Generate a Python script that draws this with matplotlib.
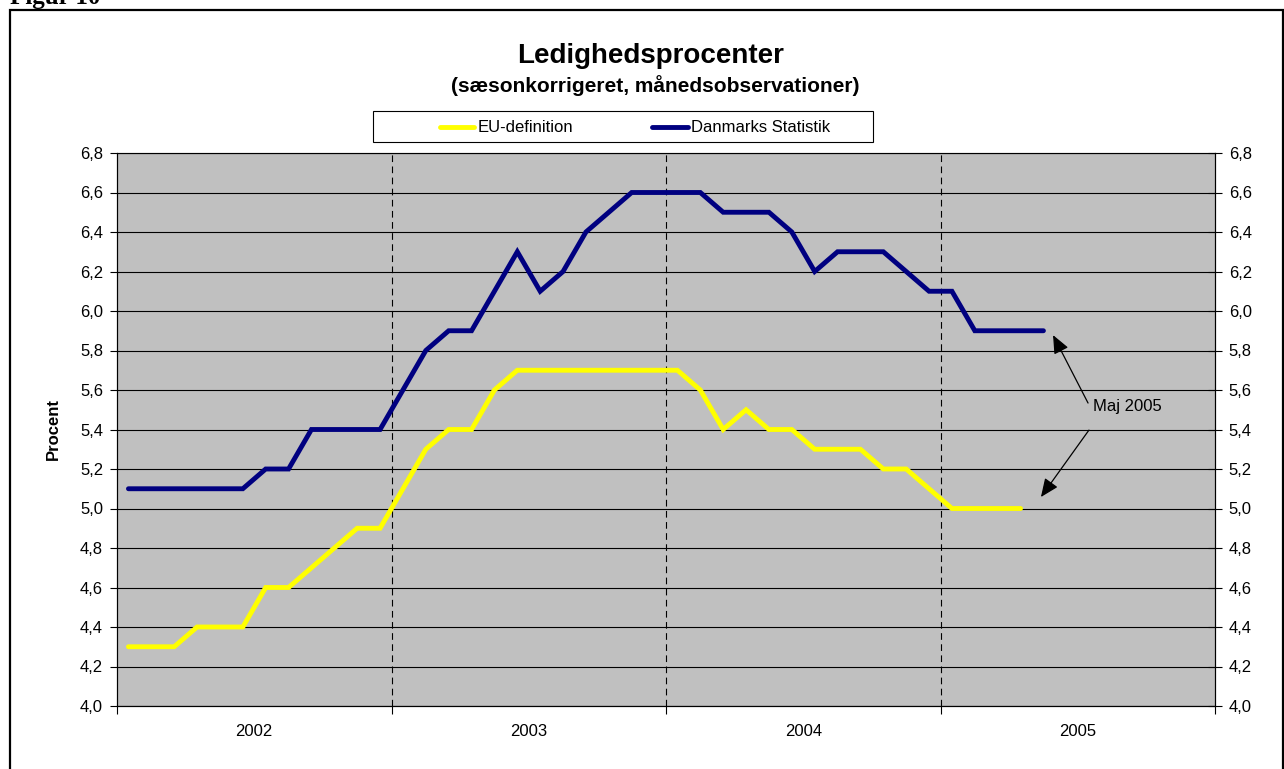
import numpy as np
import matplotlib.pyplot as plt
from matplotlib.patches import Rectangle
from matplotlib.lines import Line2D

# monthly values from Jan 2002
eu_values = [4.3, 4.3, 4.3, 4.4, 4.4, 4.4, 4.6, 4.6, 4.7, 4.8, 4.9, 4.9,
             5.1, 5.3, 5.4, 5.4, 5.6, 5.7, 5.7, 5.7, 5.7, 5.7, 5.7, 5.7,
             5.7, 5.6, 5.4, 5.5, 5.4, 5.4, 5.3, 5.3, 5.3, 5.2, 5.2, 5.1,
             5.0, 5.0, 5.0, 5.0]
ds_values = [5.1, 5.1, 5.1, 5.1, 5.1, 5.1, 5.2, 5.2, 5.4, 5.4, 5.4, 5.4,
             5.6, 5.8, 5.9, 5.9, 6.1, 6.3, 6.1, 6.2, 6.4, 6.5, 6.6, 6.6,
             6.6, 6.6, 6.5, 6.5, 6.5, 6.4, 6.2, 6.3, 6.3, 6.3, 6.2, 6.1,
             6.1, 5.9, 5.9, 5.9, 5.9]
years = ['2002', '2003', '2004', '2005']
y_ticks = [4.0, 4.2, 4.4, 4.6, 4.8, 5.0, 5.2, 5.4, 5.6, 5.8, 6.0, 6.2, 6.4, 6.6, 6.8]

W, H = 1284, 769


def main():
    plt.rcParams['font.family'] = ['Liberation Sans', 'DejaVu Sans']
    fs = 12

    fig = plt.figure(figsize=(W / 100, H / 100), dpi=100)
    fig.patch.set_facecolor('white')
    ax = fig.add_axes([117 / W, 1 - 706 / H, (1215 - 117) / W, (706 - 153) / H])
    ax.set_facecolor('#C0C0C0')

    x_eu = np.arange(len(eu_values)) + 0.5
    x_ds = np.arange(len(ds_values)) + 0.5
    ax.plot(x_eu, eu_values, color='#FFFF00', lw=3.5, solid_capstyle='round',
            solid_joinstyle='miter', zorder=3)
    ax.plot(x_ds, ds_values, color='#000080', lw=3.5, solid_capstyle='round',
            solid_joinstyle='miter', zorder=3)

    n_months = 12 * len(years)
    ax.set_xlim(0, n_months)
    ax.set_ylim(y_ticks[0], y_ticks[-1])

    ax.set_yticks(y_ticks)
    ax.set_yticklabels([('%.1f' % v).replace('.', ',') for v in y_ticks], fontsize=fs)
    ax.yaxis.grid(True, color='black', lw=0.8)
    for yr in range(1, len(years)):
        ax.axvline(12 * yr, color='black', lw=0.8, ls=(0, (6, 4)), zorder=2)

    ax.set_xticks(np.arange(0, n_months + 1, 12))
    ax.set_xticklabels([])
    ax.set_xticks(np.arange(6, n_months, 12), minor=True)
    ax.set_xticklabels(years, minor=True, fontsize=fs)
    ax.tick_params(axis='x', which='major', direction='out', length=6, width=0.8)
    ax.tick_params(axis='x', which='minor', length=0, pad=13)
    ax.tick_params(axis='y', direction='out', length=5, width=0.8, pad=5)
    ax.set_axisbelow(True)

    ax2 = ax.twinx()
    ax2.set_ylim(ax.get_ylim())
    ax2.set_yticks(y_ticks)
    ax2.set_yticklabels([('%.1f' % v).replace('.', ',') for v in y_ticks], fontsize=fs)
    ax2.tick_params(axis='y', direction='inout', length=10, width=0.8, pad=5)

    for a in (ax, ax2):
        for s in a.spines.values():
            s.set_color('black')
            s.set_linewidth(0.8)
    ax.spines['top'].set_color('#808080')

    ax.set_ylabel('Procent', fontsize=fs, fontweight='bold', labelpad=14)

    # annotation
    ax.text(42.65, 5.515, 'Maj 2005', fontsize=fs, va='center', ha='left')
    arrow = dict(arrowstyle='-|>,head_length=0.7,head_width=0.3', color='black',
                 lw=0.9, mutation_scale=16, shrinkA=0, shrinkB=0)
    ax.annotate('', xy=(40.92, 5.878), xytext=(42.45, 5.534), arrowprops=arrow)
    ax.annotate('', xy=(40.39, 5.058), xytext=(42.49, 5.397), arrowprops=arrow)

    # titles
    fig.text(651 / W, 1 - 56 / H, 'Ledighedsprocenter', fontsize=20,
             fontweight='bold', ha='center', va='center')
    fig.text(655 / W, 1 - 86 / H, '(sæsonkorrigeret, månedsobservationer)',
             fontsize=15, fontweight='bold', ha='center', va='center')

    # legend box
    fig.patches.append(Rectangle((373 / W, 1 - 142 / H), 500 / W, 31 / H,
                                 transform=fig.transFigure, facecolor='white',
                                 edgecolor='black', lw=0.8))
    ly = 1 - 127 / H
    fig.lines.append(Line2D([440 / W, 474 / W], [ly, ly], transform=fig.transFigure,
                            color='#FFFF00', lw=3.5, solid_capstyle='round'))
    fig.lines.append(Line2D([652 / W, 688 / W], [ly, ly], transform=fig.transFigure,
                            color='#000080', lw=3.5, solid_capstyle='round'))
    fig.text(478 / W, ly, 'EU-definition', fontsize=fs, va='center')
    fig.text(691 / W, ly, 'Danmarks Statistik', fontsize=fs, va='center')

    # page frame and caption
    fig.patches.append(Rectangle((10 / W, -0.02), 1273 / W, 1.02 - 10 / H,
                                 transform=fig.transFigure, fill=False,
                                 edgecolor='black', lw=1.6))
    fig.text(10 / W, 1 - 4 / H, 'Figur 10', fontsize=18, fontweight='bold',
             family='Liberation Serif', va='baseline', ha='left')

    fig.savefig('out.png', dpi=100)


if __name__ == "__main__":
    main()
